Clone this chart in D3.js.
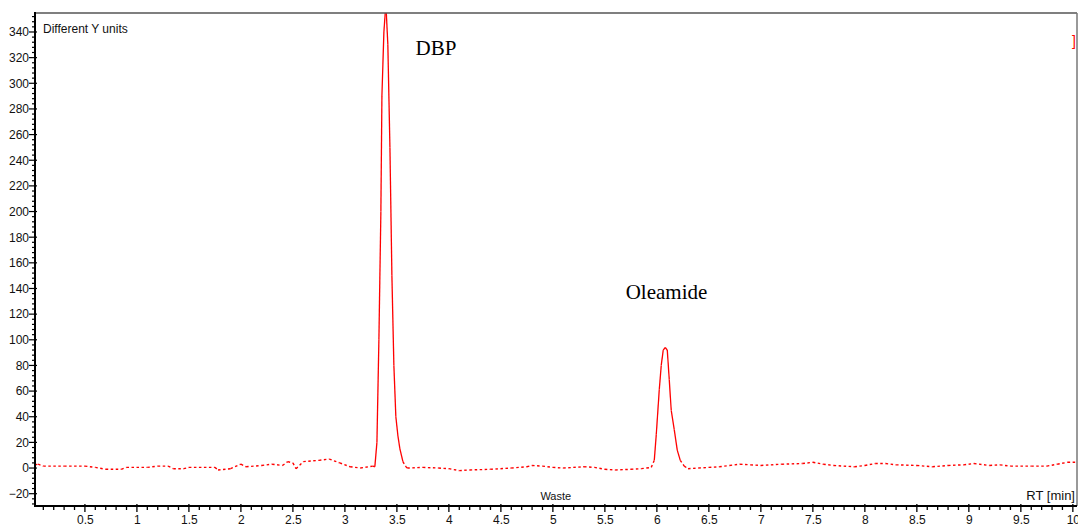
<!DOCTYPE html>
<html>
<head>
<meta charset="utf-8">
<script src="https://cdn.jsdelivr.net/npm/d3@7"></script>
<style>
  body { margin: 0; background: #fff; }
  svg { display: block; }
  .tick text { font-family: "Liberation Sans Narrow", "Arial Narrow", "Liberation Sans", sans-serif; font-size: 12px; fill: #111; }
</style>
</head>
<body>
<svg id="chart" width="1078" height="528"></svg>
<script>
// retention time (min) and signal
var rt = [0.02, 0.05, 0.1, 0.3, 0.5, 0.6, 0.7, 0.85, 0.9, 1.1, 1.2, 1.3, 1.35, 1.45, 1.5, 1.75, 1.78, 1.9,
  2.0, 2.05, 2.2, 2.3, 2.4, 2.45, 2.5, 2.53, 2.6, 2.75, 2.85, 2.95, 3.05, 3.15, 3.27,
  3.288, 3.308, 3.327, 3.346, 3.356, 3.375, 3.394, 3.413, 3.433, 3.452, 3.471, 3.49, 3.51, 3.529, 3.558, 3.587,
  3.6, 3.75, 3.9, 4.0, 4.1, 4.2, 4.4, 4.6, 4.75, 4.8, 4.9, 5.0, 5.1, 5.3, 5.4, 5.5, 5.6, 5.75, 5.85, 5.9,
  5.946, 5.975, 5.994, 6.023, 6.042, 6.061, 6.081, 6.100, 6.119, 6.138, 6.167, 6.196, 6.225, 6.263,
  6.3, 6.4, 6.5, 6.6, 6.7, 6.8, 6.9, 7.0, 7.2, 7.4, 7.5, 7.6, 7.7, 7.9, 8.0, 8.1, 8.2, 8.3, 8.5, 8.65,
  8.8, 8.95, 9.05, 9.2, 9.3, 9.4, 9.6, 9.75, 9.85, 9.95, 10.04];
var signal = [2.5, 3, 1.5, 1.5, 1.5, 0.5, -1, -1, 0.5, 0.5, 1.5, 1.5, -0.5, -0.5, 0.5, 0.5, -1.5, -0.5,
  3, 1, 2, 3, 2, 5, 4, -0.5, 5, 6, 7, 4, 1, 0, 1.5,
  1, 20, 100, 200, 290, 340, 362, 330, 250, 150, 80, 40, 25, 15, 5, 1,
  0, 0.5, 0, -0.5, -2, -1.5, -1, 0, 1, 2, 1.5, 0.5, 0, 1, 0.5, -1, -1.5, -1, -0.5, 0,
  0.5, 6, 26, 61, 80, 92, 94, 92, 69, 45, 30, 14, 6, 1.5,
  -0.5, 0, 0.5, 1, 2, 3, 2.5, 2, 3, 3.5, 4.5, 3, 2, 1, 2, 3.5, 3.5, 2.5, 2, 1,
  2, 2.5, 3.5, 2, 2.5, 1.5, 1.5, 1.5, 3, 4.5, 4.5];

var xTicks = [0.5, 1, 1.5, 2, 2.5, 3, 3.5, 4, 4.5, 5, 5.5, 6, 6.5, 7, 7.5, 8, 8.5, 9, 9.5, 10];
var yTicks = [-20, 0, 20, 40, 60, 80, 100, 120, 140, 160, 180, 200, 220, 240, 260, 280, 300, 320, 340];
var peakNames = ["DBP", "Oleamide"];
var peakLabelAt = [[3.68, 322], [5.7, 132]];

var svg = d3.select("#chart");
var mLeft = 35, mRight = 1077, mTop = 13, mBottom = 506;

var x = d3.scaleLinear().domain([0.02, 10.04]).range([mLeft, mRight]);
var y = d3.scaleLinear().domain([-29.6, 354.8]).range([mBottom, mTop]);

var data = rt.map(function(t, i) { return { t: t, v: signal[i] }; });

svg.append("clipPath").attr("id", "clip")
  .append("rect").attr("x", mLeft).attr("y", mTop).attr("width", mRight - mLeft).attr("height", mBottom - mTop);

// baseline drawn dotted, peaks drawn solid
var line = d3.line().x(function(d) { return x(d.t); }).y(function(d) { return y(d.v); });
var g = svg.append("g").attr("clip-path", "url(#clip)");
for (var i = 0; i < data.length - 1; i++) {
  var a = data[i], b = data[i + 1];
  var big = Math.abs(a.v) > 10 || Math.abs(b.v) > 10;
  g.append("path")
    .attr("d", line([a, b]))
    .attr("fill", "none")
    .attr("stroke", "#ff0000")
    .attr("stroke-width", big ? 1.3 : 1.4)
    .attr("stroke-dasharray", big ? null : "2.5,2.5");
}

// frame: top and right in gray
svg.append("line").attr("x1", mLeft).attr("x2", mRight).attr("y1", mTop).attr("y2", mTop)
  .attr("stroke", "#555").attr("stroke-width", 1.5);
svg.append("line").attr("x1", mRight).attr("x2", mRight).attr("y1", mTop).attr("y2", mBottom)
  .attr("stroke", "#777").attr("stroke-width", 1.5);

// minor ticks
var gx = svg.append("g");
d3.range(1, 101).forEach(function(k) {
  var t = k / 10;
  if (t > 10.04) return;
  var major = Math.abs(t * 2 - Math.round(t * 2)) < 1e-6;
  gx.append("line").attr("x1", x(t)).attr("x2", x(t))
    .attr("y1", major ? mBottom - 2 : mBottom).attr("y2", mBottom + (major ? 6 : 4))
    .attr("stroke", "#000").attr("stroke-width", 1.3);
});
var gy = svg.append("g");
d3.range(-29, 355).forEach(function(v) {
  if (v % 4 !== 0 && v % 20 !== 0) return;
  var major = v % 20 === 0;
  gy.append("line").attr("x1", mLeft - (major ? 6 : 3)).attr("x2", major ? mLeft + 2 : mLeft)
    .attr("y1", y(v)).attr("y2", y(v))
    .attr("stroke", "#000").attr("stroke-width", 1.2);
});

// axes with labels
var xAxis = svg.append("g").attr("transform", "translate(0," + mBottom + ")")
  .call(d3.axisBottom(x).tickValues(xTicks).tickSize(0).tickPadding(9).tickFormat(d3.format("")));
xAxis.select(".domain").remove();
var yAxis = svg.append("g").attr("transform", "translate(" + mLeft + ",0)")
  .call(d3.axisLeft(y).tickValues(yTicks).tickSize(0).tickPadding(6));
yAxis.select(".domain").remove();

svg.append("line").attr("x1", mLeft - 1).attr("x2", mRight).attr("y1", mBottom).attr("y2", mBottom)
  .attr("stroke", "#000").attr("stroke-width", 2.2);
svg.append("line").attr("x1", mLeft).attr("x2", mLeft).attr("y1", mTop - 1).attr("y2", mBottom + 1)
  .attr("stroke", "#000").attr("stroke-width", 2);

var sans = "'Liberation Sans Narrow', 'Arial Narrow', 'Liberation Sans', sans-serif";
svg.append("text").attr("x", mLeft + 8).attr("y", 33).text("Different Y units")
  .style("font-family", sans).style("font-size", "12px").attr("fill", "#111");
svg.append("text").attr("x", x(4.88)).attr("y", 500).text("Waste")
  .style("font-family", sans).style("font-size", "11px").attr("fill", "#111");
svg.append("text").attr("x", mRight - 2).attr("y", 500).attr("text-anchor", "end").text("RT [min]")
  .style("font-family", sans).style("font-size", "13px").attr("fill", "#111");
svg.append("text").attr("x", 1072).attr("y", 46).text("]")
  .style("font-family", sans).style("font-size", "14px").attr("fill", "#ff0000");

peakNames.forEach(function(n, i) {
  svg.append("text").attr("x", x(peakLabelAt[i][0])).attr("y", y(peakLabelAt[i][1])).text(n)
    .style("font-family", "'Liberation Serif', 'Times New Roman', serif").style("font-size", "21px")
    .attr("fill", "#000");
});
</script>
</body>
</html>
